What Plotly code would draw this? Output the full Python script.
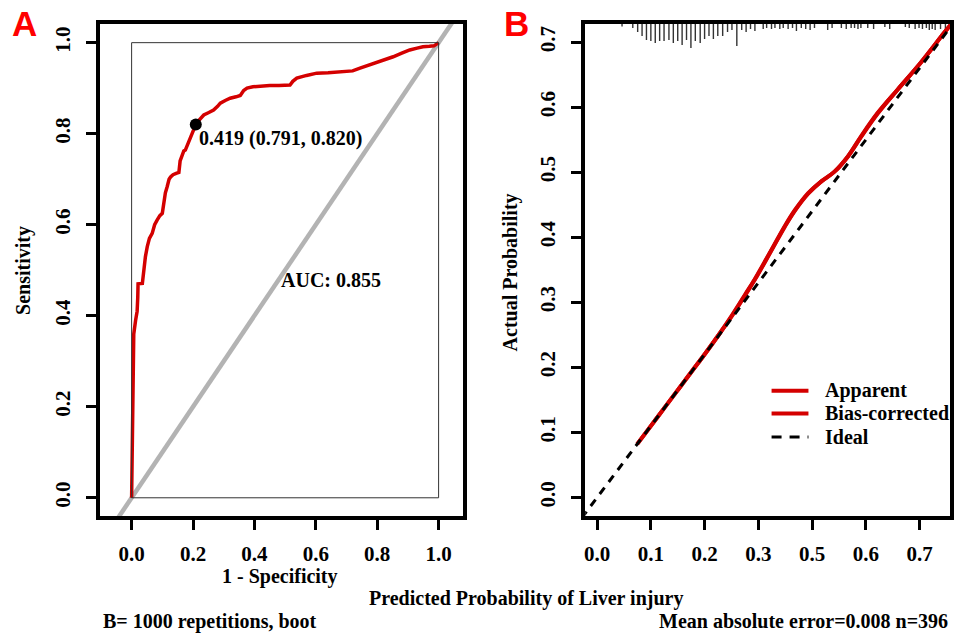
import plotly.graph_objects as go

# ---------------- data ----------------
# Panel A: ROC curve (x = 1 - specificity, y = sensitivity)
roc_fpr = [0.0, 0.002, 0.004, 0.007, 0.013, 0.018, 0.020, 0.021, 0.035, 0.040, 0.045, 0.051,
           0.058, 0.067, 0.075, 0.083, 0.092, 0.100, 0.105, 0.110, 0.116, 0.122, 0.127, 0.135,
           0.145, 0.154, 0.158, 0.165, 0.170, 0.175, 0.185, 0.197, 0.203, 0.209, 0.220, 0.235,
           0.250, 0.267, 0.280, 0.289, 0.305, 0.321, 0.340, 0.354, 0.365, 0.376, 0.395, 0.419,
           0.450, 0.480, 0.516, 0.525, 0.538, 0.570, 0.603, 0.640, 0.689, 0.720, 0.744, 0.770,
           0.798, 0.825, 0.852, 0.880, 0.906, 0.930, 0.949, 0.970, 0.985, 1.0]
roc_tpr = [0.0, 0.10, 0.22, 0.36, 0.39, 0.41, 0.44, 0.47, 0.471, 0.508, 0.53, 0.552,
           0.57, 0.581, 0.60, 0.61, 0.62, 0.625, 0.654, 0.67, 0.684, 0.70, 0.705, 0.71,
           0.713, 0.715, 0.74, 0.757, 0.762, 0.764, 0.78, 0.801, 0.81, 0.820, 0.83, 0.841,
           0.846, 0.852, 0.86, 0.867, 0.873, 0.878, 0.881, 0.884, 0.895, 0.90, 0.903, 0.905,
           0.906, 0.906, 0.907, 0.915, 0.922, 0.928, 0.933, 0.934, 0.936, 0.938, 0.944, 0.950,
           0.955, 0.962, 0.969, 0.977, 0.984, 0.988, 0.991, 0.992, 0.993, 1.0]
best_fpr = [0.209]
best_tpr = [0.820]
best_label = "0.419 (0.791, 0.820)"
auc_label = "AUC: 0.855"
chance = [-0.2, 1.2]

# Panel B: calibration curve
cal_pred = [0.082, 0.104, 0.140, 0.168, 0.194, 0.221, 0.248, 0.276, 0.303, 0.323, 0.357, 0.384,
            0.405, 0.432, 0.459, 0.486, 0.513, 0.540, 0.574, 0.615, 0.662, 0.710, 0.725]
apparent = [0.082, 0.104, 0.140, 0.168, 0.194, 0.221, 0.249, 0.280, 0.312, 0.336, 0.381, 0.417,
            0.442, 0.468, 0.486, 0.501, 0.524, 0.555, 0.591, 0.627, 0.668, 0.714, 0.728]
bias_corrected = [0.082, 0.104, 0.140, 0.168, 0.194, 0.221, 0.249, 0.279, 0.311, 0.335, 0.380, 0.416,
                  0.441, 0.467, 0.486, 0.501, 0.524, 0.554, 0.590, 0.627, 0.668, 0.714, 0.728]
ideal = [-0.05, 0.80]
legend_names = ["Apparent", "Bias-corrected", "Ideal"]

# spike histogram of predicted probabilities (relative frequency)
rug_x = [0.051, 0.073, 0.083, 0.092, 0.101, 0.110, 0.119, 0.128, 0.137, 0.147, 0.156, 0.165,
         0.174, 0.183, 0.192, 0.201, 0.211, 0.220, 0.229, 0.238, 0.247, 0.257, 0.267, 0.276,
         0.286, 0.296, 0.305, 0.314, 0.323, 0.340, 0.347, 0.357, 0.364, 0.374, 0.381, 0.391,
         0.400, 0.408, 0.418, 0.427, 0.436, 0.445, 0.472, 0.481, 0.500, 0.510, 0.520, 0.527,
         0.534, 0.540, 0.554, 0.566, 0.589, 0.599, 0.631, 0.639, 0.651, 0.659, 0.666, 0.674,
         0.680, 0.686, 0.692, 0.703, 0.713]
rug_freq = [2.5, 4, 8, 12, 16, 17, 19, 17, 17, 16, 19, 17,
            21, 16, 24, 17, 19, 15, 12, 15, 12, 12, 8, 6,
            22, 6, 8, 5, 7, 5, 4, 5, 4, 5, 4, 5,
            4, 7, 4, 5, 6, 4, 6, 4, 4, 5, 4, 4,
            5, 4, 4, 5, 3, 5, 3, 4, 5, 4, 5, 4,
            6, 5, 6, 5, 6]

a_ticks = [0.0, 0.2, 0.4, 0.6, 0.8, 1.0]
b_yticks = [0.0, 0.1, 0.2, 0.3, 0.4, 0.5, 0.6, 0.7]
b_xtick_pos = [0.0, 0.11, 0.22, 0.33, 0.44, 0.55, 0.66]
b_xtick_text = ["0.0", "0.1", "0.2", "0.3", "0.5", "0.6", "0.7"]

# ---------------- styling ----------------
W, H = 954, 633
SERIF = "Liberation Serif"
RED = "#d40000"


def px_x(p):
    return p / W


def px_y(p):
    return 1 - p / H


A_XR = [-0.104, 1.078]
A_YR = [-0.040, 1.041]
B_XR = [-0.0245, 0.7224]
B_YR = [-0.0285, 0.728]

fig = go.Figure()

# Panel A
fig.add_trace(go.Scatter(x=chance, y=chance, mode="lines", xaxis="x", yaxis="y",
                         line=dict(color="#b3b3b3", width=4.5), showlegend=False, hoverinfo="skip"))
fig.add_trace(go.Scatter(x=roc_fpr, y=roc_tpr, mode="lines", xaxis="x", yaxis="y",
                         line=dict(color=RED, width=3.5), showlegend=False))
fig.add_trace(go.Scatter(x=best_fpr, y=best_tpr, mode="markers", xaxis="x", yaxis="y",
                         marker=dict(color="black", size=12), showlegend=False))

# Panel B
rx, ry = [], []
for xv, fv in zip(rug_x, rug_freq):
    rx += [xv, xv, None]
    ry += [B_YR[1], B_YR[1] - fv / 650.0, None]
fig.add_trace(go.Scatter(x=rx, y=ry, mode="lines", xaxis="x2", yaxis="y2",
                         line=dict(color="#333333", width=1.4), showlegend=False, hoverinfo="skip"))
fig.add_trace(go.Scatter(x=cal_pred, y=apparent, mode="lines", xaxis="x2", yaxis="y2",
                         name=legend_names[0], showlegend=False,
                         line=dict(color=RED, width=4, shape="spline")))
fig.add_trace(go.Scatter(x=cal_pred, y=bias_corrected, mode="lines", xaxis="x2", yaxis="y2",
                         name=legend_names[1], showlegend=False,
                         line=dict(color=RED, width=4, shape="spline")))
fig.add_trace(go.Scatter(x=ideal, y=ideal, mode="lines", xaxis="x2", yaxis="y2",
                         name=legend_names[2], showlegend=False,
                         line=dict(color="black", width=3, dash="8px,7px")))

tickfont = dict(family=SERIF, size=21, color="black", weight="bold")
common_axis = dict(showline=True, linecolor="black", linewidth=3.5, mirror=True,
                   ticks="outside", ticklen=10, tickwidth=3, tickcolor="black",
                   showgrid=False, zeroline=False, tickfont=tickfont)

# manual legend keys (paper coordinates)
leg_rows = [390.7, 413.5, 437.0]
leg_styles = [dict(color=RED, width=4), dict(color=RED, width=4),
              dict(color="black", width=3, dash="10px,8px")]
shapes = [dict(type="rect", xref="x", yref="y", x0=0, y0=0, x1=1, y1=1,
               line=dict(color="#333333", width=1))]
for yy, st in zip(leg_rows, leg_styles):
    shapes.append(dict(type="line", xref="paper", yref="paper",
                       x0=px_x(773), x1=px_x(810), y0=px_y(yy), y1=px_y(yy), line=st))

fig.update_layout(
    width=W, height=H,
    margin=dict(l=0, r=0, t=0, b=0),
    paper_bgcolor="white", plot_bgcolor="white",
    showlegend=False,
    xaxis=dict(domain=[px_x(99), px_x(463)], range=A_XR, tickvals=a_ticks,
               ticktext=[f"{v:.1f}" for v in a_ticks], anchor="y", ticklabelstandoff=6,
               **common_axis),
    yaxis=dict(domain=[px_y(516), px_y(24)], range=A_YR, tickvals=a_ticks,
               ticktext=[f"{v:.1f}" for v in a_ticks], tickangle=-90, anchor="x",
               ticklabelstandoff=8, **common_axis),
    xaxis2=dict(domain=[px_x(586), px_x(952)], range=B_XR, tickvals=b_xtick_pos,
                ticktext=b_xtick_text, anchor="y2", ticklabelstandoff=6, **common_axis),
    yaxis2=dict(domain=[px_y(516), px_y(24)], range=B_YR, tickvals=b_yticks,
                ticktext=[f"{v:.1f}" for v in b_yticks], tickangle=-90, anchor="x2",
                ticklabelstandoff=8, **common_axis),
    shapes=shapes,
)

lab = dict(family=SERIF, size=20, color="black", weight="bold")


def paper_text(text, x, y, xanchor="center", angle=0, font=lab):
    return dict(text=text, x=px_x(x), y=px_y(y), xref="paper", yref="paper",
                xanchor=xanchor, yanchor="middle", textangle=angle,
                showarrow=False, font=font)


red_big = dict(family="Liberation Sans", size=35, color="#ff0000", weight="bold")
ann = [
    dict(text=best_label, x=best_fpr[0], y=best_tpr[0], xref="x", yref="y",
         xanchor="left", yanchor="middle", xshift=1, yshift=-14, showarrow=False, font=lab),
    dict(text=auc_label, x=0.651, y=0.478, xref="x", yref="y", xanchor="center",
         yanchor="middle", showarrow=False, font=lab),
    paper_text("A", 24, 24, font=red_big),
    paper_text("B", 517, 24, font=red_big),
    paper_text("Sensitivity", 22, 270, angle=-90),
    paper_text("1 - Specificity", 280, 576),
    paper_text("Actual Probability", 511, 272, angle=-90),
    paper_text("Predicted Probability of Liver injury", 527, 598),
    paper_text("B= 1000 repetitions, boot", 100, 621, xanchor="left"),
    paper_text("Mean absolute error=0.008 n=396", 952, 621, xanchor="right"),
]
for name, yy in zip(legend_names, leg_rows):
    ann.append(paper_text(name, 825, yy, xanchor="left"))
fig.update_layout(annotations=ann)

fig.write_html("out.html", config={"displayModeBar": False},
               post_script="document.body.style.margin='0px';document.body.style.overflow='hidden';")
